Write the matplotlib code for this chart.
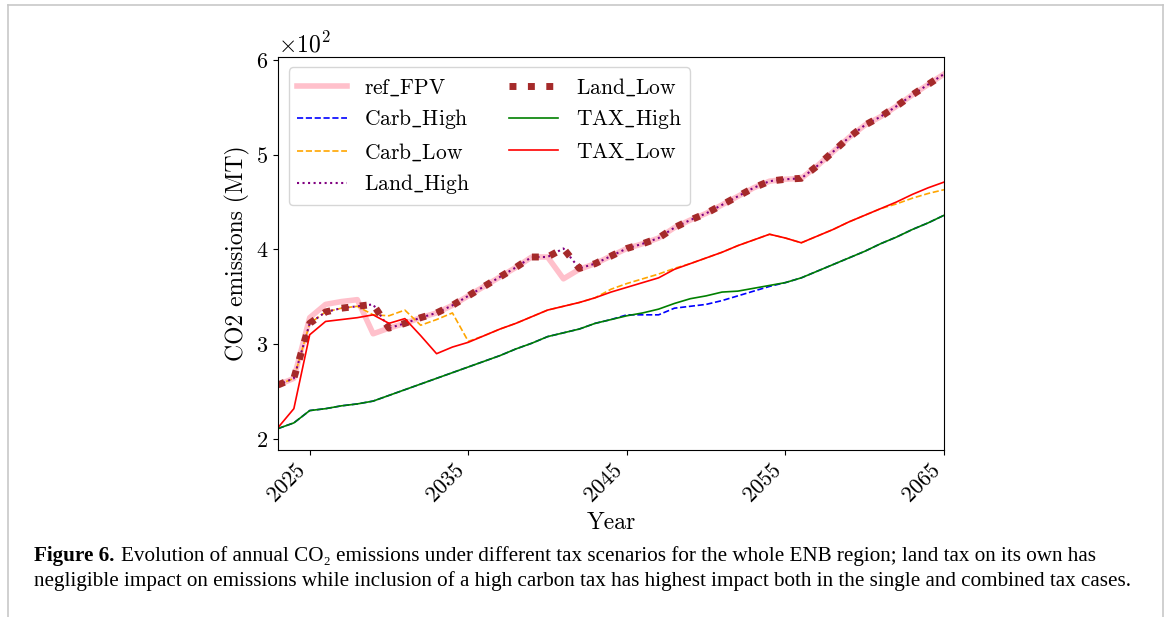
import matplotlib
matplotlib.use("Agg")
import matplotlib.pyplot as plt
from matplotlib.lines import Line2D
import numpy as np

plt.rcParams['font.family'] = 'serif'
plt.rcParams['font.serif'] = ['cmr10']
plt.rcParams['mathtext.fontset'] = 'cm'
plt.rcParams['axes.formatter.use_mathtext'] = True

years = np.arange(2023, 2066)

# emissions in MT
ref_fpv = [257, 264, 328, 342, 345, 347, 311, 317, 322, 328, 333, 341, 351, 361, 371, 381,
           392, 392, 369, 379, 385, 393, 401, 406, 412, 423, 431, 438, 447, 456, 465, 472,
           474, 475, 488, 503, 518, 531, 540, 551, 563, 574, 585]
land_high = [257, 264, 322, 334, 338, 340, 342, 317, 322, 328, 333, 341, 351, 361, 371, 381,
             392, 392, 401, 380, 385, 393, 401, 406, 412, 423, 431, 438, 447, 456, 465, 472,
             474, 475, 488, 503, 518, 531, 540, 551, 563, 574, 585]
land_low = list(land_high)
tax_low = [212, 232, 310, 324, 326, 328, 331, 322, 327, 309, 290, 297, 302, 309, 316, 322,
           329, 336, 340, 344, 349, 355, 360, 365, 370, 379, 385, 391, 397, 404, 410, 416,
           412, 407, 414, 421, 429, 436, 443, 450, 458, 465, 471]
carb_low = [257, 264, 322, 334, 338, 340, 331, 330, 336, 320, 326, 333, 303, 309, 316, 322,
            329, 336, 340, 344, 349, 358, 364, 369, 374, 380, 385, 391, 397, 404, 410, 416,
            412, 407, 414, 421, 429, 436, 443, 448, 454, 459, 463]
tax_high = [211, 217, 230, 232, 235, 237, 240, 246, 252, 258, 264, 270, 276, 282, 288, 295,
            301, 308, 312, 316, 322, 326, 330, 333, 337, 343, 348, 351, 355, 356, 359, 362,
            365, 370, 377, 384, 391, 398, 406, 413, 421, 428, 436]
carb_high = [211, 217, 230, 232, 235, 237, 240, 246, 252, 258, 264, 270, 276, 282, 288, 295,
             301, 308, 312, 316, 322, 326, 331, 331, 331, 338, 340, 342, 346, 351, 356, 361,
             365, 370, 377, 384, 391, 398, 406, 413, 421, 428, 436]

fig = plt.figure(figsize=(11.7, 6.17), dpi=100)
ax = fig.add_axes([278/1170, 1-450/617, (944-278)/1170, (450-56.7)/617])

ax.plot(years, ref_fpv, color='pink', lw=4, label=r'$\mathrm{ref\_FPV}$')
ax.plot(years, carb_high, color='blue', ls='--', lw=1.2, label=r'$\mathrm{Carb\_High}$')
ax.plot(years, carb_low, color='orange', ls='--', lw=1.2, label=r'$\mathrm{Carb\_Low}$')
ax.plot(years, land_high, color='purple', ls=':', lw=1.5, label=r'$\mathrm{Land\_High}$')
ax.plot(years, land_low, color='brown', ls=':', lw=5, label=r'$\mathrm{Land\_Low}$')
ax.plot(years, tax_high, color='green', lw=1.2, label=r'$\mathrm{TAX\_High}$')
ax.plot(years, tax_low, color='red', lw=1.2, label=r'$\mathrm{TAX\_Low}$')

ax.set_xlim(2023, 2065)
ax.set_ylim(188.4, 603.3)
ax.set_xticks([2025, 2035, 2045, 2055, 2065])
ax.set_yticks([200, 300, 400, 500, 600])
ax.ticklabel_format(axis='y', style='sci', scilimits=(2, 2), useMathText=True)
ax.tick_params(labelsize=16)
ax.yaxis.get_offset_text().set_fontsize(17)
plt.setp(ax.get_xticklabels(), rotation=45, ha='right', rotation_mode='default')
ax.set_xlabel('Year', fontsize=17)
ax.set_ylabel('CO2 emissions (MT)', fontsize=17)
ax.legend(ncol=2, loc='upper left', fontsize=15.5, handlelength=2.3,
          labelspacing=0.45, columnspacing=1.8)

# page frame
fig.add_artist(Line2D([8/1170, 8/1170], [0, 1-5/617], color='#c8c8c8', lw=1.2))
fig.add_artist(Line2D([8/1170, 1163/1170], [1-5/617, 1-5/617], color='#c8c8c8', lw=1.2))
fig.add_artist(Line2D([1163/1170, 1163/1170], [0, 1-5/617], color='#c8c8c8', lw=1.2))

cap_font = dict(family='Liberation Serif', fontsize=15.2)
fig.text(34/1170, 1-556/617, 'Figure 6.', fontweight='bold', va='center', **cap_font)
fig.text(121/1170, 1-556/617, 'Evolution of annual CO\u2082 emissions under different tax scenarios for the whole ENB region; land tax on its own has',
         va='center', **cap_font)
fig.text(34/1170, 1-581/617, 'negligible impact on emissions while inclusion of a high carbon tax has highest impact both in the single and combined tax cases.',
         va='center', **cap_font)

fig.savefig('out.png', dpi=100)
